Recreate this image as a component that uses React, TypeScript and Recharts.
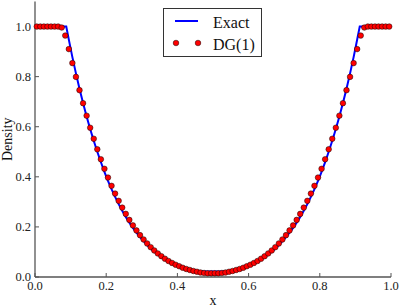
import React from 'react';
import { ComposedChart, Line, Scatter, XAxis, YAxis, Legend, Label } from 'recharts';

const FONT = '"Liberation Serif", "DejaVu Serif", serif';

// exact solution (double rarefaction)
const exactX = [
  0, 0.0878, 0.095, 0.105, 0.115, 0.125, 0.135, 0.145, 0.155, 0.165, 0.175,
  0.185, 0.195, 0.205, 0.215, 0.225, 0.235, 0.245, 0.255, 0.265, 0.275,
  0.285, 0.295, 0.305, 0.315, 0.325, 0.335, 0.345, 0.355, 0.365, 0.375,
  0.385, 0.395, 0.405, 0.415, 0.425, 0.435, 0.445, 0.4478,
  0.5522, 0.555, 0.565, 0.575, 0.585, 0.595, 0.605, 0.615, 0.625, 0.635,
  0.645, 0.655, 0.665, 0.675, 0.685, 0.695, 0.705, 0.715, 0.725, 0.735,
  0.745, 0.755, 0.765, 0.775, 0.785, 0.795, 0.805, 0.815, 0.825, 0.835,
  0.845, 0.855, 0.865, 0.875, 0.885, 0.895, 0.905, 0.9122, 1,
];
const exactRho = [
  1, 1, 0.948, 0.878, 0.813, 0.752, 0.695, 0.641, 0.591, 0.544, 0.5,
  0.459, 0.42, 0.384, 0.351, 0.32, 0.291, 0.264, 0.24, 0.217, 0.196,
  0.177, 0.159, 0.143, 0.128, 0.114, 0.101, 0.09, 0.08, 0.07, 0.062,
  0.054, 0.048, 0.041, 0.036, 0.031, 0.027, 0.023, 0.022,
  0.022, 0.023, 0.027, 0.031, 0.036, 0.041, 0.048, 0.054, 0.062, 0.07,
  0.08, 0.09, 0.101, 0.114, 0.128, 0.143, 0.159, 0.177, 0.196, 0.217,
  0.24, 0.264, 0.291, 0.32, 0.351, 0.384, 0.42, 0.459, 0.5, 0.544,
  0.591, 0.641, 0.695, 0.752, 0.813, 0.878, 0.948, 1, 1,
];

// DG(1) cell values
const dgX = [
  0.005, 0.015, 0.025, 0.035, 0.045, 0.055, 0.065, 0.075, 0.085, 0.095,
  0.105, 0.115, 0.125, 0.135, 0.145, 0.155, 0.165, 0.175, 0.185, 0.195,
  0.205, 0.215, 0.225, 0.235, 0.245, 0.255, 0.265, 0.275, 0.285, 0.295,
  0.305, 0.315, 0.325, 0.335, 0.345, 0.355, 0.365, 0.375, 0.385, 0.395,
  0.405, 0.415, 0.425, 0.435, 0.445, 0.455, 0.465, 0.475, 0.485, 0.495,
  0.505, 0.515, 0.525, 0.535, 0.545, 0.555, 0.565, 0.575, 0.585, 0.595,
  0.605, 0.615, 0.625, 0.635, 0.645, 0.655, 0.665, 0.675, 0.685, 0.695,
  0.705, 0.715, 0.725, 0.735, 0.745, 0.755, 0.765, 0.775, 0.785, 0.795,
  0.805, 0.815, 0.825, 0.835, 0.845, 0.855, 0.865, 0.875, 0.885, 0.895,
  0.905, 0.915, 0.925, 0.935, 0.945, 0.955, 0.965, 0.975, 0.985, 0.995,
];
const dgRho = [
  1.0, 1.0, 1.0, 1.0, 1.0, 1.0, 1.0, 0.996, 0.964, 0.91,
  0.854, 0.799, 0.746, 0.694, 0.644, 0.596, 0.552, 0.51, 0.47, 0.432,
  0.397, 0.364, 0.333, 0.304, 0.277, 0.252, 0.228, 0.206, 0.186, 0.167,
  0.15, 0.134, 0.119, 0.106, 0.094, 0.083, 0.073, 0.064, 0.056, 0.049,
  0.043, 0.037, 0.032, 0.028, 0.024, 0.021, 0.018, 0.016, 0.015, 0.015,
  0.015, 0.015, 0.016, 0.018, 0.021, 0.024, 0.028, 0.032, 0.037, 0.043,
  0.049, 0.056, 0.064, 0.073, 0.083, 0.094, 0.106, 0.119, 0.134, 0.15,
  0.167, 0.186, 0.206, 0.228, 0.252, 0.277, 0.304, 0.333, 0.364, 0.397,
  0.432, 0.47, 0.51, 0.552, 0.596, 0.644, 0.694, 0.746, 0.799, 0.854,
  0.91, 0.964, 0.996, 1.0, 1.0, 1.0, 1.0, 1.0, 1.0, 1.0,
];

const xTicks = [0, 0.2, 0.4, 0.6, 0.8, 1.0];
const yTicks = [0, 0.2, 0.4, 0.6, 0.8, 1.0];

const exactData = exactX.map((x, i) => ({ x, rho: exactRho[i] }));
const dgData = dgX.map((x, i) => ({ x, rho: dgRho[i] }));

const FRAME = '#555';
const axisLine = { stroke: FRAME, strokeWidth: 1.3 };
const tickLine = { stroke: FRAME, strokeWidth: 1 };
const tickStyle = { fill: '#222', fontSize: 12.5, fontFamily: FONT };
const blank = () => '';

const Dot = (props: any) => {
  const { cx, cy } = props;
  if (cx == null || cy == null) return null;
  return <circle cx={cx} cy={cy} r={2.8} fill="#ff0000" stroke="#000" strokeWidth={0.6} strokeOpacity={0.8} />;
};

const LegendBox = () => (
  <div style={{ width: 99, height: 49, boxSizing: 'border-box', border: '1px solid #333', background: '#fff' }}>
    <svg width={97} height={47} style={{ display: 'block' }}>
      <line x1={11} x2={34} y1={12} y2={12} stroke="#0000ff" strokeWidth={2} />
      <circle cx={12} cy={34} r={2.8} fill="#ff0000" stroke="#000" strokeWidth={0.6} strokeOpacity={0.8} />
      <circle cx={34} cy={34} r={2.8} fill="#ff0000" stroke="#000" strokeWidth={0.6} strokeOpacity={0.8} />
      <text x={49} y={13} dominantBaseline="central" fontFamily={FONT} fontSize={16} fill="#111">Exact</text>
      <text x={49} y={35} dominantBaseline="central" fontFamily={FONT} fontSize={16} fill="#111">DG(1)</text>
    </svg>
  </div>
);

export default function App() {
  return (
    <div style={{ position: 'absolute', left: 0, top: 0, background: '#fff' }}>
      <ComposedChart width={399} height={306} margin={{ top: 1.5, right: 8, bottom: 0, left: 0 }}>
        <XAxis
          dataKey="x" type="number" domain={[0, 1]} ticks={xTicks}
          tickFormatter={(v: number) => v.toFixed(1)} height={29}
          tickSize={-4} tickMargin={8} axisLine={axisLine} tickLine={tickLine} tick={tickStyle}
        >
          <Label
            content={({ viewBox }: any) => (
              <text x={viewBox.x + viewBox.width / 2} y={viewBox.y + 23} textAnchor="middle" dominantBaseline="central"
                fontFamily={FONT} fontSize={14} fill="#111">x</text>
            )}
          />
        </XAxis>
        <XAxis
          xAxisId="top" orientation="top" type="number" domain={[0, 1]} ticks={xTicks} height={0}
          tickSize={-4} tickFormatter={blank} axisLine={axisLine} tickLine={tickLine} tick={tickStyle}
        />
        <YAxis
          type="number" domain={[0, 1.1]} ticks={yTicks} width={35}
          tickFormatter={(v: number) => v.toFixed(1)}
          tickSize={-4} tickMargin={8} axisLine={axisLine} tickLine={tickLine} tick={tickStyle}
        >
          <Label
            content={({ viewBox }: any) => {
              const cy = viewBox.y + viewBox.height / 2;
              return (
                <text x={7} y={cy} transform={`rotate(-90, 7, ${cy})`} textAnchor="middle" dominantBaseline="central"
                  fontFamily={FONT} fontSize={14} fill="#111">Density</text>
              );
            }}
          />
        </YAxis>
        <YAxis
          yAxisId="right" orientation="right" type="number" domain={[0, 1.1]} ticks={yTicks} width={0}
          tickSize={-4} tickFormatter={blank} axisLine={axisLine} tickLine={tickLine} tick={tickStyle}
        />
        <Legend
          layout="horizontal" verticalAlign="middle" align="center"
          content={() => <LegendBox />}
          wrapperStyle={{ position: 'absolute', left: 163, top: 8, width: 99, height: 49 }}
        />
        <Line data={exactData} dataKey="rho" type="linear" stroke="#0000ff" strokeWidth={2} dot={false} isAnimationActive={false} />
        <Scatter data={dgData} dataKey="rho" shape={<Dot />} isAnimationActive={false} />
      </ComposedChart>
    </div>
  );
}
